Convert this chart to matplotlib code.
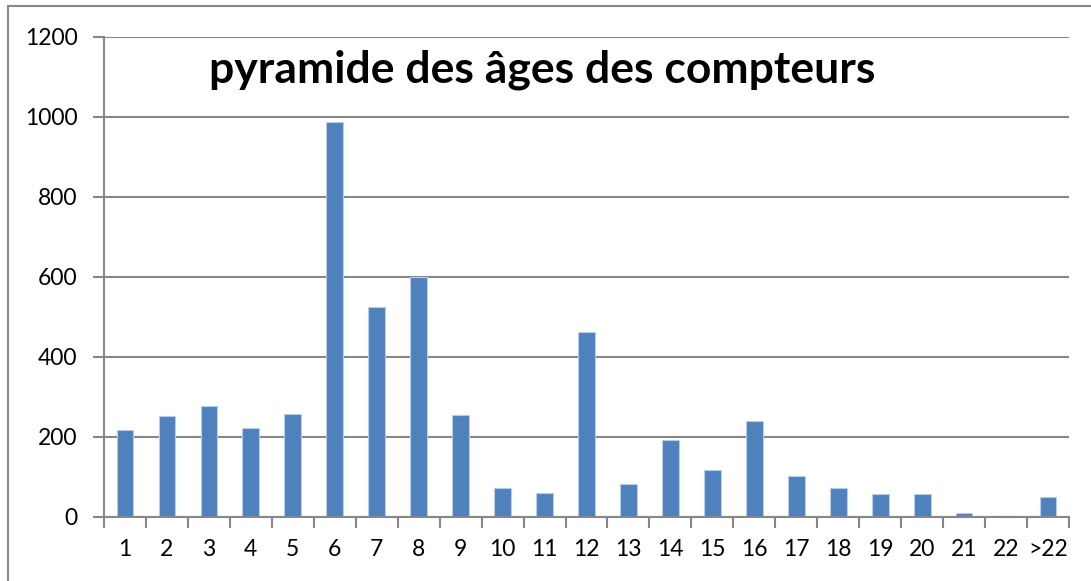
import matplotlib.pyplot as plt
from matplotlib.patches import Rectangle

# age brackets of the meters and their counts
ages = ['1', '2', '3', '4', '5', '6', '7', '8', '9', '10', '11', '12',
        '13', '14', '15', '16', '17', '18', '19', '20', '21', '22', '>22']
counts = [218, 252, 278, 222, 257, 988, 524, 600, 254, 73, 60, 462,
          82, 192, 116, 239, 103, 72, 56, 57, 9, 2, 49]
yticks = [0, 200, 400, 600, 800, 1000, 1200]

plt.rcParams['font.family'] = ['Lato', 'DejaVu Sans']
grey = '#878787'

fig = plt.figure(figsize=(10.91, 5.81), dpi=100)
ax = fig.add_axes([104 / 1091, 1 - 516.7 / 581, 965 / 1091, 480 / 581])

x = list(range(len(ages)))
ax.bar(x, counts, width=0.4, color='#4F81BD', edgecolor='#B9CDE5', linewidth=0.8, zorder=3)

ax.set_xlim(-0.5, len(ages) - 0.5)
ax.set_ylim(0, 1200)
ax.set_yticks(yticks)
ax.set_yticklabels([str(v) for v in yticks], fontsize=16.5)
ax.set_xticks(x)
ax.set_xticklabels(ages, fontsize=16.5)
ax.set_xticks([i - 0.5 for i in range(len(ages) + 1)], minor=True)

ax.tick_params(axis='x', which='major', length=0, pad=16)
ax.tick_params(axis='x', which='minor', length=8, width=1.5, color=grey)
ax.tick_params(axis='y', length=8, width=1.5, color=grey, pad=11)

ax.grid(axis='y', color=grey, linewidth=1.5, zorder=0)
for s in ['top', 'right']:
    ax.spines[s].set_visible(False)
for s in ['left', 'bottom']:
    ax.spines[s].set_color(grey)
    ax.spines[s].set_linewidth(1.5)
    ax.spines[s].set_zorder(4)

ax.text(0.4544, 0.9056, 'pyramide des âges des compteurs', transform=ax.transAxes,
        ha='center', va='baseline', fontsize=32, fontweight='bold', zorder=5)

# chart frame, cut off on the right and bottom
fig.patches.append(Rectangle((8 / 1091, -0.1), 1.2, 1 - 6 / 581 + 0.1,
                             transform=fig.transFigure, fill=False,
                             edgecolor=grey, linewidth=1.5))

plt.savefig('out.png', dpi=100)
